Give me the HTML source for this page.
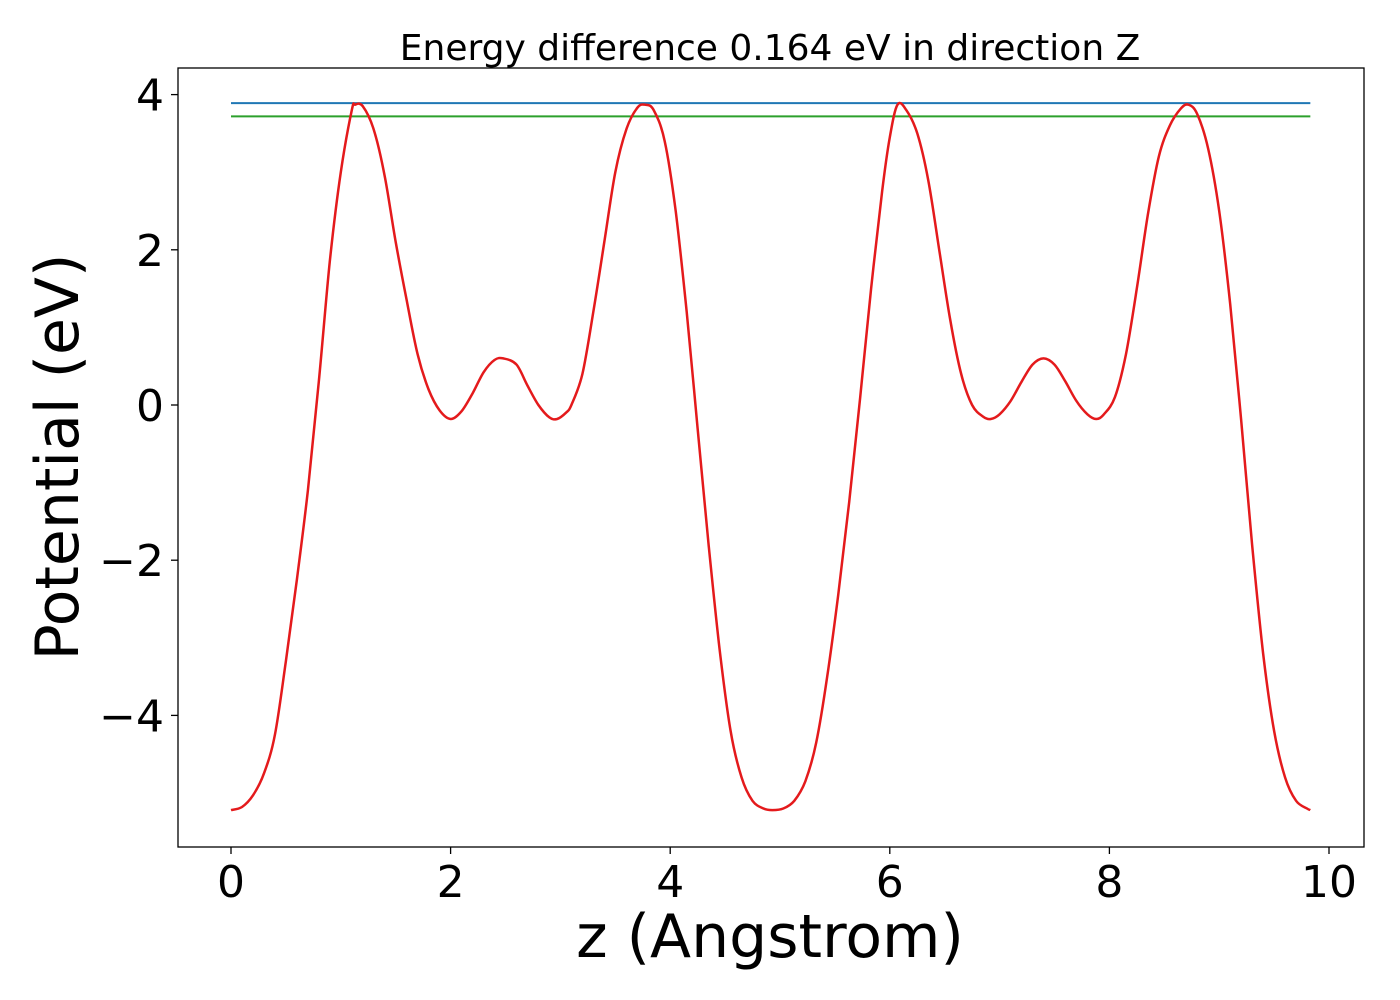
<!DOCTYPE html>
<html><head><meta charset="utf-8"><style>
html,body{margin:0;padding:0;background:#fff;}
svg{display:block;font-family:"DejaVu Sans","Liberation Sans",sans-serif;}
</style></head><body>
<svg id="chart" width="1400" height="1000">
<rect x="0" y="0" width="1400" height="1000" fill="#fff"/>
<text x="770" y="60" font-size="36" text-anchor="middle">Energy difference 0.164 eV in direction Z</text>
<g id="plot"></g>
<rect x="178" y="68" width="1186" height="779" fill="none" stroke="#000" stroke-width="1.3"/>
<g id="xt"></g>
<g id="yt"></g>
<text x="770" y="957" font-size="60" text-anchor="middle">z (Angstrom)</text>
<text transform="translate(78,457) rotate(-90)" font-size="60" text-anchor="middle">Potential (eV)</text>
</svg>
<script>
const zVals=[0,0.1,0.2,0.3,0.4,0.5,0.6,0.7,0.8,0.9,1.0,1.1,1.13,1.2,1.3,1.4,1.5,1.6,1.7,1.8,1.9,2.0,2.1,2.2,2.3,2.4,2.48,2.6,2.7,2.8,2.9,2.97,3.05,3.1,3.2,3.3,3.4,3.5,3.6,3.7,3.77,3.85,3.95,4.05,4.15,4.25,4.35,4.45,4.55,4.65,4.75,4.85,4.93,5.03,5.13,5.23,5.33,5.43,5.53,5.63,5.73,5.83,5.93,6.0,6.07,6.15,6.25,6.35,6.45,6.55,6.65,6.75,6.85,6.92,7.0,7.1,7.2,7.3,7.4,7.5,7.6,7.7,7.8,7.88,7.95,8.05,8.15,8.25,8.35,8.45,8.55,8.65,8.72,8.8,8.9,9.0,9.1,9.2,9.3,9.4,9.5,9.6,9.7,9.8,9.83];
const potential=[-5.22,-5.18,-5.03,-4.75,-4.25,-3.3,-2.25,-1.1,0.3,1.85,3.0,3.8,3.87,3.85,3.55,2.95,2.1,1.35,0.65,0.2,-0.07,-0.18,-0.08,0.15,0.42,0.58,0.6,0.52,0.25,0.0,-0.16,-0.18,-0.1,0.0,0.4,1.2,2.1,3.0,3.55,3.83,3.87,3.8,3.4,2.5,1.2,-0.3,-1.8,-3.15,-4.2,-4.8,-5.1,-5.2,-5.22,-5.2,-5.1,-4.85,-4.35,-3.5,-2.45,-1.25,0.1,1.5,2.75,3.45,3.87,3.8,3.5,2.9,2.0,1.1,0.4,0.0,-0.15,-0.18,-0.12,0.05,0.3,0.52,0.6,0.52,0.3,0.05,-0.12,-0.18,-0.12,0.1,0.65,1.5,2.45,3.2,3.6,3.82,3.87,3.75,3.3,2.5,1.3,-0.2,-1.8,-3.2,-4.2,-4.8,-5.1,-5.2,-5.22];
const levelZ=[0,9.83];
const blueLevel=3.89;
const greenLevel=3.72;
const xTicks=[0,2,4,6,8,10];
const yTicks=[-4,-2,0,2,4];

const NS="http://www.w3.org/2000/svg";
const X=v=>231+v*109.8;
const Y=v=>405-v*77.6;
function mk(tag,attrs,parent){const e=document.createElementNS(NS,tag);for(const k in attrs)e.setAttribute(k,attrs[k]);parent.appendChild(e);return e;}
const plot=document.getElementById('plot');
const bl=mk('line',{x1:X(levelZ[0]),x2:X(levelZ[1]),y1:Y(blueLevel),y2:Y(blueLevel),stroke:'#1f77b4','stroke-width':2},plot);


const gl=mk('line',{x1:X(levelZ[0]),x2:X(levelZ[1]),y1:Y(greenLevel),y2:Y(greenLevel),stroke:'#2ca02c','stroke-width':2},plot);


const P=zVals.map((z,i)=>[X(z),Y(potential[i])]);
let d='M'+P[0][0].toFixed(1)+','+P[0][1].toFixed(1);
for(let i=0;i<P.length-1;i++){
  const p0=P[Math.max(0,i-1)],p1=P[i],p2=P[i+1],p3=P[Math.min(P.length-1,i+2)];
  const c1=[p1[0]+(p2[0]-p0[0])/6,p1[1]+(p2[1]-p0[1])/6];
  const c2=[p2[0]-(p3[0]-p1[0])/6,p2[1]-(p3[1]-p1[1])/6];
  d+=' C'+c1[0].toFixed(1)+','+c1[1].toFixed(1)+' '+c2[0].toFixed(1)+','+c2[1].toFixed(1)+' '+p2[0].toFixed(1)+','+p2[1].toFixed(1);
}
const pl=mk('path',{d:d,fill:'none',stroke:'#e41a1c','stroke-width':2.5,'stroke-linejoin':'round'},plot);


const xt=document.getElementById('xt');
xTicks.forEach(t=>{
  const l=mk('line',{x1:X(t),x2:X(t),y1:847,y2:854,stroke:'#000','stroke-width':1.3},xt);
  
  
  const s=mk('text',{x:X(t),y:897,'font-size':44,'text-anchor':'middle'},xt);
  s.textContent=String(t);
  
  
});
const yt=document.getElementById('yt');
yTicks.forEach(t=>{
  const l=mk('line',{x1:171,x2:178,y1:Y(t),y2:Y(t),stroke:'#000','stroke-width':1.3},yt);
  
  
  const s=mk('text',{x:164,y:Y(t)+16,'font-size':44,'text-anchor':'end'},yt);
  s.textContent=t<0?'\u2212'+Math.abs(t):String(t);
  
  
});
</script>
</body></html>
